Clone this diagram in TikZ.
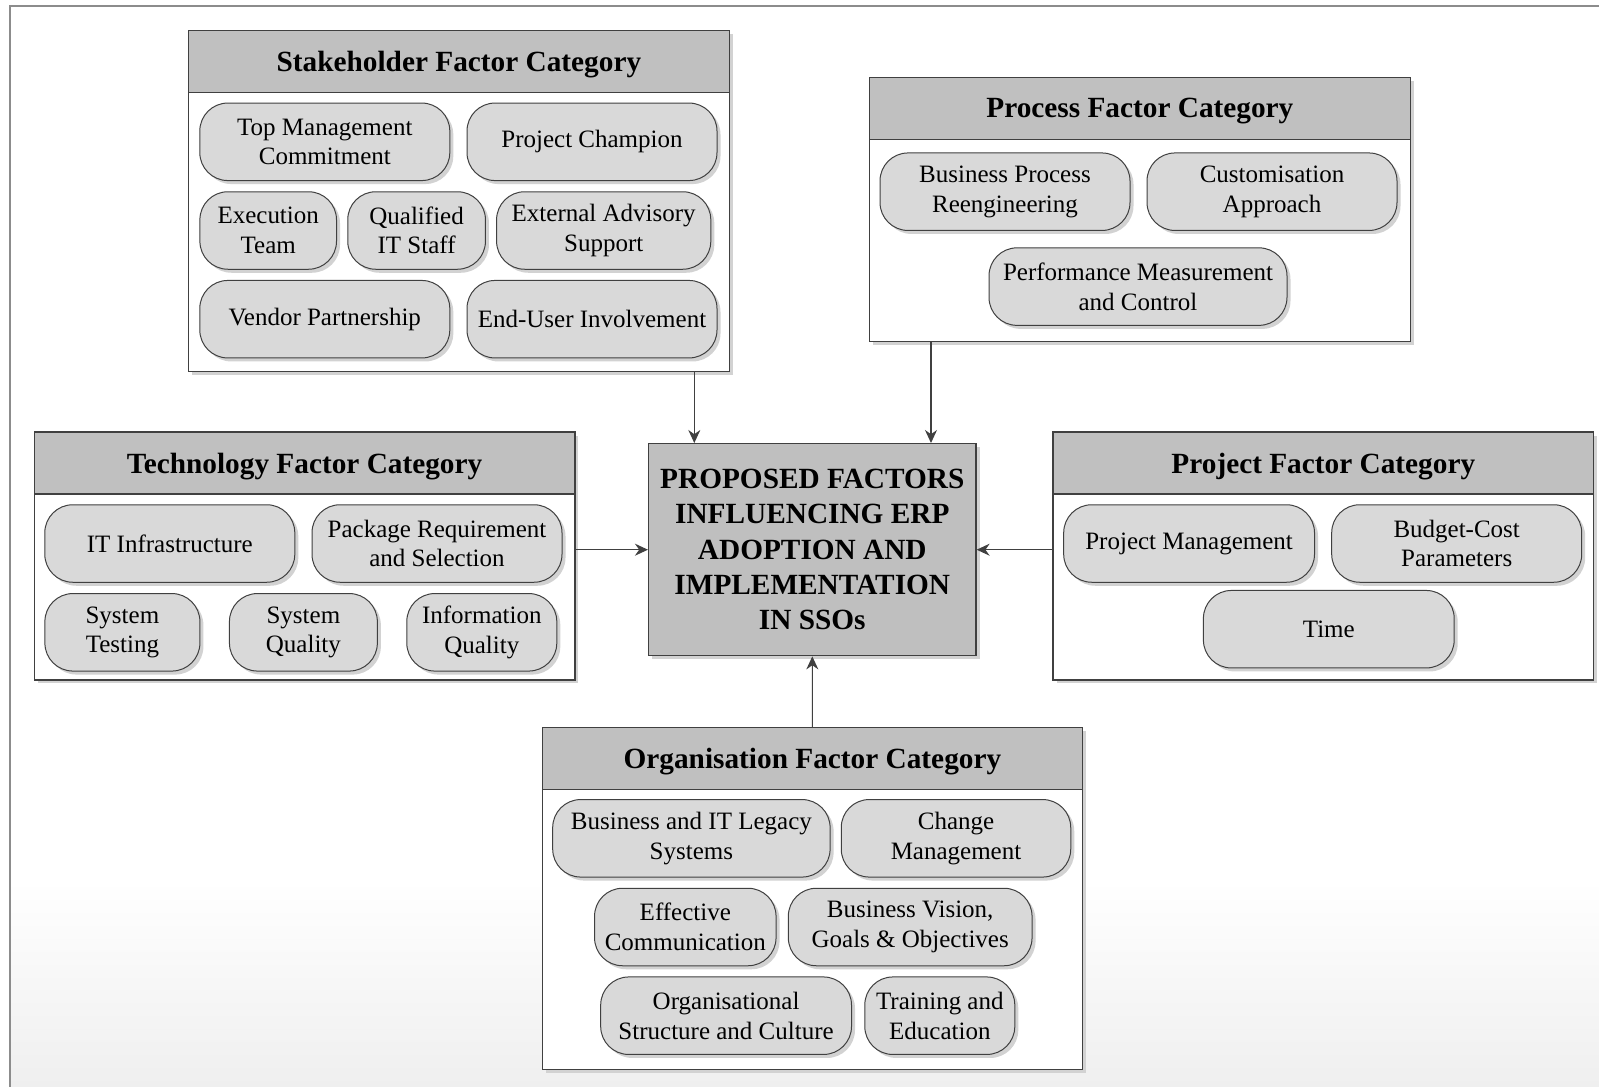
\documentclass[tikz,border=0pt]{standalone}
\usepackage{fontspec}
\setmainfont{Liberation Serif}
\usetikzlibrary{arrows.meta,shadows}

\definecolor{linec}{HTML}{404040}
\definecolor{headc}{HTML}{C0C0C0}
\definecolor{pillc}{HTML}{D9D9D9}
\definecolor{corec}{HTML}{BFBFBF}
\definecolor{framec}{HTML}{8C8C8C}
\definecolor{shadc}{HTML}{D2D2D2}
\definecolor{bgc}{HTML}{EFEFEF}

\newcommand{\pillfont}{\fontsize{25}{29.5}\selectfont}
\newcommand{\headfont}{\fontsize{29.3}{35}\selectfont\bfseries}
\newcommand{\corefont}{\fontsize{29.3}{35.3}\selectfont\bfseries}

\tikzset{
  softshadow/.style={drop shadow={shadow xshift=3.5pt, shadow yshift=-3.5pt, fill=shadc, opacity=1}},
  catbox/.style={draw=linec, line width=1.3pt, fill=white, anchor=north west,
    minimum width=540.5, inner sep=0pt, softshadow},
  cathead/.style={draw=linec, line width=1.3pt, fill=headc, anchor=north west,
    minimum width=540.5, minimum height=62, inner sep=0pt, text depth=0pt, font=\headfont},
  pill/.style={draw=linec, line width=1pt, fill=pillc, rounded corners=28pt,
    minimum height=77.5, align=center, inner sep=0pt, font=\pillfont, softshadow},
  corebox/.style={draw=linec, line width=1.3pt, fill=corec, align=center,
    inner sep=0pt, font=\corefont, softshadow},
  arr/.style={draw=linec, line width=1.1pt, -{Stealth[length=13pt, width=12pt]}},
}

\begin{document}
\begin{tikzpicture}[x=1pt, y=-1pt]
\useasboundingbox (0,0) rectangle (1599,1087);

% page background and frame
\fill[white] (0,0) rectangle (1599,1087);
\shade[top color=white, bottom color=bgc] (10,880) rectangle (1599,1087);
\draw[framec, line width=2pt] (10,1087) -- (10,6) -- (1599,6);

% Stakeholder
\node[catbox, minimum height=341] (stake) at (188,30) {};
\node[cathead] (stakeH) at (188,30) {Stakeholder Factor Category};
\node[pill, minimum width=250] (tmc) at (324.8,141.8) {Top Management\\Commitment};
\node[pill, minimum width=250] (pc) at (592,141.8) {Project Champion};
\node[pill, minimum width=136.6] (et) at (268.2,230.5) {Execution\\Team};
\node[pill, minimum width=137.7] (qit) at (416.6,230.5) {Qualified\\IT Staff};
\node[pill, minimum width=214.2] (eas) at (603.7,230.5) {External Advisory\\Support};
\node[pill, minimum width=250] (vp) at (324.8,319.2) {Vendor Partnership};
\node[pill, minimum width=250] (eui) at (592,319.2) {End-User Involvement};

% Process
\node[catbox, minimum height=264] (proc) at (869,76.5) {};
\node[cathead] (procH) at (869,76.5) {Process Factor Category};
\node[pill, minimum width=250] (bpr) at (1005,191.7) {Business Process\\Reengineering};
\node[pill, minimum width=250] (ca) at (1272,191.7) {Customisation\\Approach};
\node[pill, minimum width=298] (pmc) at (1138,286.6) {Performance Measurement\\and Control};

% Technology
\node[catbox, minimum height=247.8] (tech) at (33.7,431.4) {};
\node[cathead] (techH) at (33.7,431.4) {Technology Factor Category};
\node[pill, minimum width=250] (iti) at (169.8,543.5) {IT Infrastructure};
\node[pill, minimum width=250] (prs) at (437,543.5) {Package Requirement\\and Selection};
\node[pill, minimum width=155] (st) at (122.4,632.3) {System\\Testing};
\node[pill, minimum width=147.9] (sq) at (303.4,632.3) {System\\Quality};
\node[pill, minimum width=150] (iq) at (481.8,632.3) {Information\\Quality};

% Project
\node[catbox, minimum height=247.8] (proj) at (1052.4,431.4) {};
\node[cathead] (projH) at (1052.4,431.4) {Project Factor Category};
\node[pill, minimum width=250.8] (pm) at (1189.1,543.5) {Project Management};
\node[pill, minimum width=250] (bcp) at (1456.7,543.5) {Budget-Cost\\Parameters};
\node[pill, minimum width=250.8] (time) at (1328.8,629.2) {Time};

% Organisation
\node[catbox, minimum height=341.7] (org) at (541.5,727.1) {};
\node[cathead] (orgH) at (541.5,727.1) {Organisation Factor Category};
\node[pill, minimum width=277.4] (bitl) at (691.4,838.3) {Business and IT Legacy\\Systems};
\node[pill, minimum width=229.5] (cm) at (956,838.3) {Change\\Management};
\node[pill, minimum width=181.5] (ec) at (685.3,927) {Effective\\Communication};
\node[pill, minimum width=243.7] (bvg) at (910.2,927) {Business Vision,\\Goals \& Objectives};
\node[pill, minimum width=250.8] (osc) at (726.1,1015.7) {Organisational\\Structure and Culture};
\node[pill, minimum width=150] (te) at (939.8,1015.7) {Training and\\Education};

% Central box
\node[corebox, minimum width=327.4, minimum height=212.1] (core) at (812.3,549.7)
  {PROPOSED FACTORS\\INFLUENCING ERP\\ADOPTION AND\\IMPLEMENTATION\\IN SSOs};

% Connectors
\coordinate (s1) at ([xshift=-35.5pt]stake.south east);
\coordinate (p1) at ([xshift=62pt]proc.south west);
\draw[arr] (s1) -- (s1 |- core.north);
\draw[arr] (p1) -- (p1 |- core.north);
\draw[arr] (tech.east |- core.west) -- (core.west);
\draw[arr] (proj.west |- core.east) -- (core.east);
\draw[arr] (org.north) -- (core.south);
\end{tikzpicture}
\end{document}
